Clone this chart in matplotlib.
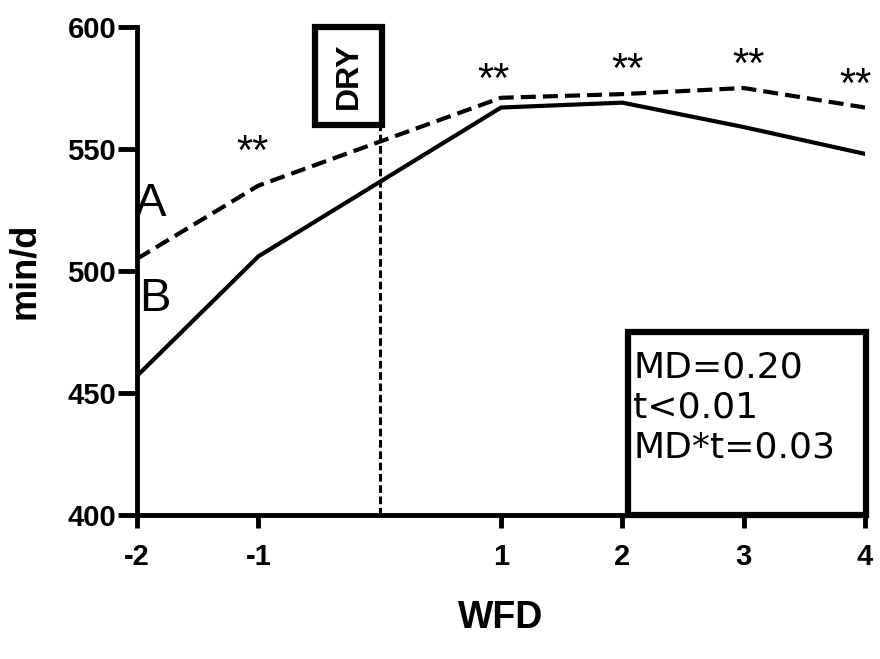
import matplotlib.pyplot as plt
from matplotlib.patches import Rectangle

# данные графика
wfd = [-2, -1, 1, 2, 3, 4]
tick_labels = ['-2', '-1', '1', '2', '3', '4']
line_a = [505, 535, 571, 572.5, 575, 567]  # пунктир
line_b = [457, 506, 567, 569, 559, 548]  # сплошная
star_x = [-1.05, 0.94, 2.04, 3.04, 3.92]
star_y = [550.8, 580.3, 584.4, 586.5, 578.3]
stats_text = "MD=0.20\nt<0.01\nMD*t=0.03"

bold_font = ['Liberation Sans', 'DejaVu Sans']
reg_font = ['Liberation Sans', 'DejaVu Sans']

fig = plt.figure(figsize=(8.8, 6.59), dpi=100)
ax = fig.add_axes([0.1557, 0.2185, 0.8273, 0.7405])

ax.plot(wfd, line_a, color='black', lw=3, ls=(0, (3.6, 1.7)))
ax.plot(wfd, line_b, color='black', lw=3)

for x, y in zip(star_x, star_y):
    ax.annotate('**', (x, y), xytext=(0, -4), textcoords='offset points',
                ha='center', va='center', fontsize=30, family=reg_font)

ax.text(-1.885, 527.5, 'A', ha='center', va='center', fontsize=34, family=reg_font)
ax.text(-1.85, 488.5, 'B', ha='center', va='center', fontsize=34, family=reg_font)

# линия сухостойного периода и надпись DRY
ax.plot([0, 0], [400, 560], color='black', lw=2.2, ls=(0, (2.5, 1.2)))
ax.add_patch(Rectangle((-0.533, 560), 0.553, 40, fc='white', ec='black', lw=4.5,
                       clip_on=False, zorder=3))
ax.text(-0.257, 580, 'DRY', rotation=90, ha='center', va='center', fontsize=23,
        family=reg_font, fontweight='bold', zorder=4)

# блок со статистикой
ax.add_patch(Rectangle((2.048, 400), 1.962, 75, fc='white', ec='black', lw=4.5,
                       clip_on=False, zorder=3))
ax.text(2.09, 444, stats_text, ha='left', va='center', fontsize=26,
        family=['DejaVu Sans'], linespacing=1.22, zorder=4)

ax.set_xlim(-2, 4)
ax.set_ylim(400, 600)
ax.set_xticks(wfd)
ax.set_xticklabels(tick_labels)
ax.set_yticks([400, 450, 500, 550, 600])

for s in ['top', 'right']:
    ax.spines[s].set_visible(False)
for s in ['left', 'bottom']:
    ax.spines[s].set_linewidth(3.5)

ax.tick_params(axis='x', direction='out', length=9, width=3.5, pad=11)
ax.tick_params(axis='y', direction='out', length=14, width=3.5, pad=1)
for lab in ax.get_xticklabels() + ax.get_yticklabels():
    lab.set_family(bold_font)
    lab.set_fontweight('bold')
    lab.set_fontsize(21)

ax.set_ylabel('min/d', family=bold_font, fontweight='bold', fontsize=26)
ax.yaxis.set_label_coords(-0.13, 0.5)
ax.set_xlabel('WFD', family=bold_font, fontweight='bold', fontsize=27)
ax.xaxis.set_label_coords(0.5, -0.175)

plt.savefig('out.png', dpi=100)
